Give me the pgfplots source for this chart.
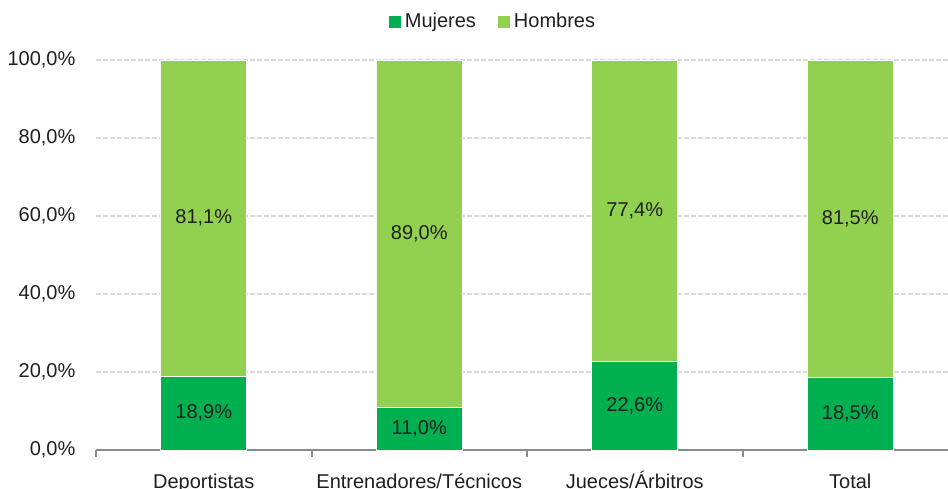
\documentclass[border=0pt]{standalone}
\usepackage{fontspec}
\setmainfont{Liberation Sans}
\usepackage{pgfplots}
\pgfplotsset{compat=1.18}
\definecolor{cMuj}{HTML}{00B050}
\definecolor{cHom}{HTML}{92D050}
\definecolor{cGrid}{HTML}{D9D9D9}
\definecolor{cAxis}{HTML}{8C8C8C}
\definecolor{cText}{HTML}{1F1F1F}

\begin{document}
\begin{tikzpicture}
% the reference is cropped on the right and at the bottom
\path[use as bounding box, clip] (-48pt,-19pt) rectangle (426pt,225pt);
\begin{axis}[
  at={(0pt,0pt)}, anchor=south west,
  scale only axis, width=431pt, height=195pt,
  xmin=-0.5, xmax=3.5, ymin=0, ymax=100,
  ybar stacked, bar width=0.4,
  axis x line*=bottom, axis y line*=left,
  x axis line style={cAxis, line width=1pt, -},
  y axis line style={draw=none},
  tick align=outside,
  xtick={0,1,2,3},
  xticklabels={Deportistas, Entrenadores/Técnicos, Jueces/Árbitros, Total},
  major x tick style={draw=none},
  minor xtick={-0.5,0.5,1.5,2.5,3.5},
  minor x tick style={cAxis, line width=1pt},
  minor tick length=3.5pt,
  ytick={0,20,...,100},
  ytick style={draw=none},
  ymajorgrids,
  grid style={cGrid, line width=0.75pt, dash pattern=on 2.5pt off 1pt},
  /pgf/number format/assume math mode=true,
  yticklabel={\pgfmathprintnumber[fixed,fixed zerofill,precision=1,use comma]{\tick}\%},
  tick label style={text=cText},
  yticklabel style={xshift=-2.5pt},
  xticklabel style={anchor=base, yshift=-15pt},
  point meta=rawy,
  nodes near coords={\pgfmathprintnumber[fixed,fixed zerofill,precision=1,use comma]{\pgfplotspointmeta}\%},
  every node near coord/.append style={anchor=center, text=cText},
  legend style={at={(0.4617,1.097)}, anchor=center, draw=none, fill=none,
    legend columns=2, text=cText,
    /tikz/every even column/.append style={column sep=9pt}},
  legend image code/.code={\path[#1, draw=none] (0pt,-3pt) rectangle (6pt,3pt);},
]
\addplot[fill=cMuj, draw=white, line width=0.5pt]
  coordinates {(0,18.9) (1,11.0) (2,22.6) (3,18.5)};
\addlegendentry{Mujeres}
\addplot[fill=cHom, draw=white, line width=0.5pt]
  coordinates {(0,81.1) (1,89.0) (2,77.4) (3,81.5)};
\addlegendentry{Hombres}
\end{axis}
\end{tikzpicture}
\end{document}
